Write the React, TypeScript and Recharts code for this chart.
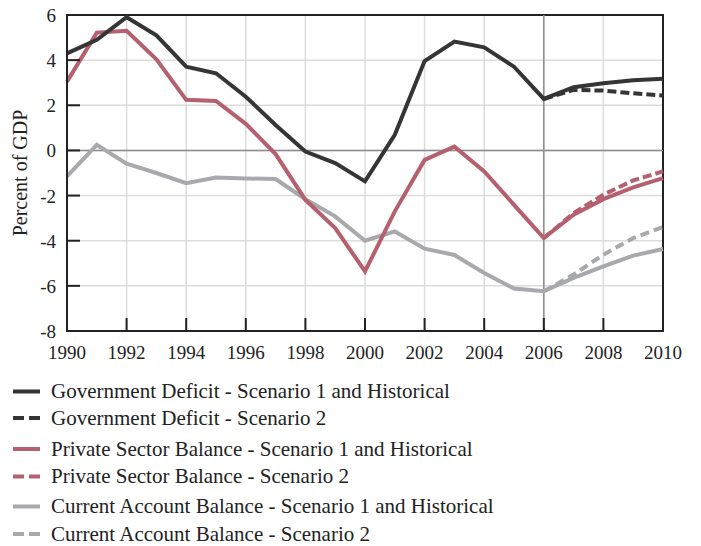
import React from 'react';
import { LineChart, Line, XAxis, YAxis, CartesianGrid, ReferenceLine, ReferenceArea } from 'recharts';

const years = [1990, 1991, 1992, 1993, 1994, 1995, 1996, 1997, 1998, 1999, 2000, 2001, 2002, 2003, 2004, 2005, 2006, 2007, 2008, 2009, 2010];
const govDeficit = [4.3, 4.9, 5.9, 5.1, 3.71, 3.42, 2.38, 1.13, -0.05, -0.56, -1.37, 0.69, 3.96, 4.82, 4.57, 3.71, 2.28, 2.8, 2.98, 3.11, 3.18];
const govDeficitS2 = [null, null, null, null, null, null, null, null, null, null, null, null, null, null, null, null, 2.28, 2.68, 2.65, 2.53, 2.43];
const privateBalance = [3.05, 5.22, 5.3, 4.04, 2.24, 2.19, 1.18, -0.16, -2.19, -3.44, -5.36, -2.7, -0.42, 0.17, -0.93, -2.41, -3.88, -2.85, -2.16, -1.64, -1.23];
const privateBalanceS2 = [null, null, null, null, null, null, null, null, null, null, null, null, null, null, null, null, -3.88, -2.78, -1.96, -1.33, -0.93];
const currentAccount = [-1.15, 0.25, -0.59, -1.0, -1.45, -1.2, -1.24, -1.27, -2.16, -2.92, -4.0, -3.59, -4.35, -4.63, -5.43, -6.12, -6.24, -5.65, -5.14, -4.66, -4.37];
const currentAccountS2 = [null, null, null, null, null, null, null, null, null, null, null, null, null, null, null, null, -6.24, -5.5, -4.62, -3.88, -3.39];

const xTicks = [1990, 1992, 1994, 1996, 1998, 2000, 2002, 2004, 2006, 2008, 2010];
const yTicks = [-8, -6, -4, -2, 0, 2, 4, 6];

const legendItems = [
  { label: 'Government Deficit - Scenario 1 and Historical', color: '#353535', dashed: false },
  { label: 'Government Deficit - Scenario 2', color: '#353535', dashed: true },
  { label: 'Private Sector Balance - Scenario 1 and Historical', color: '#b5606f', dashed: false },
  { label: 'Private Sector Balance - Scenario 2', color: '#b5606f', dashed: true },
  { label: 'Current Account Balance - Scenario 1 and Historical', color: '#a8a9ac', dashed: false },
  { label: 'Current Account Balance - Scenario 2', color: '#a8a9ac', dashed: true },
];
const legendY = [391.5, 418, 449, 476.5, 506.5, 534];

const data = years.map((y, i) => ({
  year: y,
  gov: govDeficit[i],
  govS2: govDeficitS2[i],
  priv: privateBalance[i],
  privS2: privateBalanceS2[i],
  ca: currentAccount[i],
  caS2: currentAccountS2[i],
}));

const FONT = "'Liberation Serif', 'Times New Roman', serif";
const BLACK = '#353535';
const PINK = '#b5606f';
const GRAY = '#a8a9ac';
const textStyle = { fontFamily: FONT, fill: '#222' };

const XTick = (props: any) => {
  const { x, y, payload } = props;
  const axisY = y - 8;
  const inner = payload.value !== 1990 && payload.value !== 2010;
  return (
    <g>
      {inner && <line x1={x} x2={x} y1={axisY} y2={axisY - 13} stroke="#222" strokeWidth={2} />}
      <text x={x} y={y + 20} textAnchor="middle" style={{ ...textStyle, fontSize: 19 }}>
        {payload.value}
      </text>
    </g>
  );
};

const YTick = (props: any) => {
  const { x, y, payload } = props;
  const axisX = x + 8;
  const inner = payload.value !== 6 && payload.value !== -8;
  return (
    <g>
      {inner && <line x1={axisX} x2={axisX + 13} y1={y} y2={y} stroke="#222" strokeWidth={2} />}
      <text x={x - 3} y={y + 7} textAnchor="end" style={{ ...textStyle, fontSize: 19 }}>
        {payload.value}
      </text>
    </g>
  );
};

export default function App() {
  return (
    <div style={{ position: 'absolute', left: 0, top: 0, width: 701, height: 546, background: '#fff' }}>
      <LineChart width={701} height={546} data={data} margin={{ top: 15, right: 38, bottom: 185, left: 0 }}>
        <CartesianGrid stroke="#dcdcdc" strokeWidth={1.5} />
        <XAxis
          dataKey="year"
          type="number"
          domain={[1990, 2010]}
          ticks={xTicks}
          height={30}
          tickLine={false}
          axisLine={{ stroke: '#222', strokeWidth: 2 }}
          tick={<XTick />}
          interval={0}
        />
        <YAxis
          type="number"
          domain={[-8, 6]}
          ticks={yTicks}
          width={67}
          tickLine={false}
          axisLine={{ stroke: '#222', strokeWidth: 2 }}
          tick={<YTick />}
          interval={0}
          label={{
            content: () => (
              <text
                x={27}
                y={173}
                transform="rotate(-90 27 173)"
                textAnchor="middle"
                style={{ ...textStyle, fontSize: 20 }}
              >
                Percent of GDP
              </text>
            ),
          }}
        />
        <ReferenceLine y={0} stroke="#8c8c8c" strokeWidth={1.5} />
        <ReferenceLine x={2006} stroke="#8c8c8c" strokeWidth={1.5} />
        <Line dataKey="caS2" stroke={GRAY} strokeWidth={4} strokeDasharray="9 5" dot={false} isAnimationActive={false} connectNulls={false} />
        <Line dataKey="ca" stroke={GRAY} strokeWidth={4} dot={false} isAnimationActive={false} />
        <Line dataKey="priv" stroke={PINK} strokeWidth={4} dot={false} isAnimationActive={false} />
        <Line dataKey="privS2" stroke={PINK} strokeWidth={4} strokeDasharray="9 4" dot={false} isAnimationActive={false} connectNulls={false} />
        <Line dataKey="gov" stroke={BLACK} strokeWidth={4} dot={false} isAnimationActive={false} />
        <Line dataKey="govS2" stroke={BLACK} strokeWidth={4} strokeDasharray="9 4" dot={false} isAnimationActive={false} connectNulls={false} />
        <ReferenceArea x1={1990} x2={2010} y1={-8} y2={6} fill="none" stroke="#222" strokeWidth={2} ifOverflow="visible" />
      </LineChart>
      <svg width={701} height={546} style={{ position: 'absolute', left: 0, top: 0, pointerEvents: 'none' }}>
        {legendItems.map((item, i) => (
          <g key={item.label}>
            <line
              x1={13}
              x2={40}
              y1={legendY[i]}
              y2={legendY[i]}
              stroke={item.color}
              strokeWidth={4}
              strokeDasharray={item.dashed ? '11 5' : undefined}
            />
            <text x={51} y={legendY[i] + 6.5} style={{ ...textStyle, fontSize: 21 }}>
              {item.label}
            </text>
          </g>
        ))}
      </svg>
    </div>
  );
}
